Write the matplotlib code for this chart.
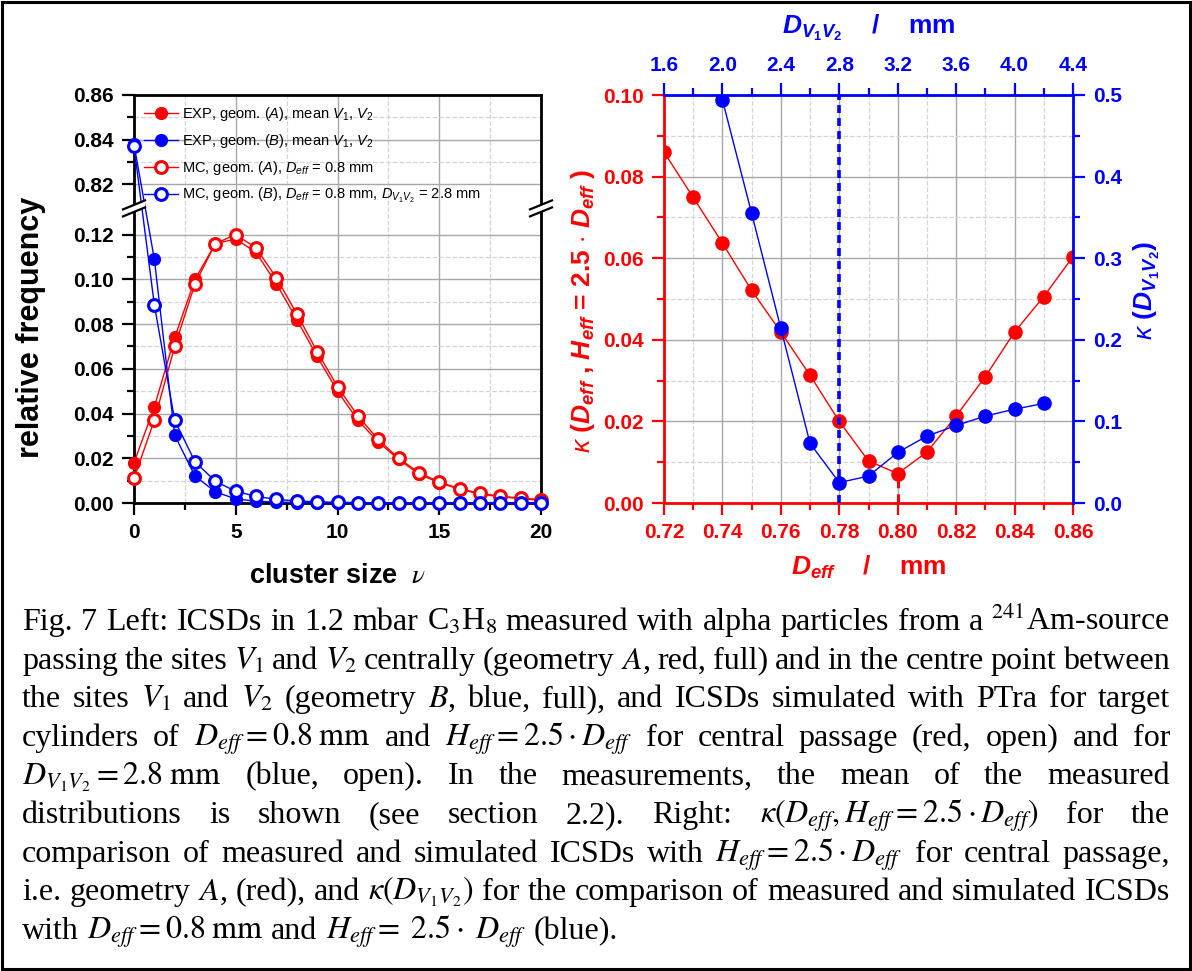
import numpy as np
import matplotlib
matplotlib.use('Agg')
import matplotlib.pyplot as plt
from matplotlib.ticker import FixedLocator, MultipleLocator, FormatStrFormatter
from matplotlib.patches import Polygon, Rectangle
from matplotlib.lines import Line2D

# ---- left panel: cluster size distributions
nu = list(range(21))
exp_a = [0.018, 0.043, 0.074, 0.100, 0.116, 0.118, 0.112, 0.098, 0.082, 0.0655, 0.050,
         0.037, 0.0273, 0.0195, 0.0130, 0.0090, 0.0062, 0.0040, 0.0028, 0.0020, 0.0012]
mc_a = [0.011, 0.037, 0.070, 0.098, 0.116, 0.120, 0.114, 0.1006, 0.0846, 0.0677, 0.052,
        0.039, 0.0284, 0.0200, 0.0136, 0.0094, 0.0064, 0.0043, 0.0030, 0.0022, 0.0015]
exp_b = [0.838, 0.109, 0.0303, 0.012, 0.005, 0.0018, 0.0008, 0.0004, 0.0002, 0.0001, 0.0001,
         0.0, 0.0, 0.0, 0.0, 0.0, 0.0, 0.0, 0.0, 0.0, 0.0]
mc_b = [0.837, 0.0886, 0.037, 0.0184, 0.0097, 0.0052, 0.0030, 0.0016, 0.0009, 0.0005, 0.0003,
        0.0002, 0.0001, 0.0001, 0.0001, 0.0001, 0.0, 0.0, 0.0, 0.0, 0.0]

# ---- right panel: kappa
d_eff = [0.72, 0.73, 0.74, 0.75, 0.76, 0.77, 0.78, 0.79, 0.80, 0.81, 0.82, 0.83, 0.84, 0.85, 0.86]
kappa_a = [0.086, 0.0749, 0.0637, 0.0521, 0.0419, 0.0313, 0.0200, 0.0103, 0.0072, 0.0125,
           0.0213, 0.0310, 0.0419, 0.0506, 0.0604]
d_v1v2 = [2.0, 2.2, 2.4, 2.6, 2.8, 3.0, 3.2, 3.4, 3.6, 3.8, 4.0, 4.2]
kappa_b = [0.494, 0.355, 0.214, 0.073, 0.025, 0.033, 0.062, 0.082, 0.095, 0.1065, 0.115, 0.122]

legend_labels = [r'EXP, geom. ($A$), mean $V_1$, $V_2$',
                 r'EXP, geom. ($B$), mean $V_1$, $V_2$',
                 r'MC, geom. ($A$), $D_{eff}$ = 0.8 mm',
                 r'MC, geom. ($B$), $D_{eff}$ = 0.8 mm, $D_{V_1V_2}$ = 2.8 mm']

caption = [
    r"Fig. 7 Left: ICSDs in 1.2 mbar C$_3$H$_8$ measured with alpha particles from a $^{241}$Am-source",
    r"passing the sites $V_1$ and $V_2$ centrally (geometry $A$, red, full) and in the centre point between",
    r"the sites $V_1$ and $V_2$ (geometry $B$, blue, full), and ICSDs simulated with PTra for target",
    r"cylinders of $D_{eff}=0.8\;\mathrm{mm}$ and $H_{eff}=2.5\cdot{D_{eff}}$ for central passage (red, open) and for",
    r"$D_{V_1V_2}=2.8\;\mathrm{mm}$ (blue, open). In the measurements, the mean of the measured",
    r"distributions is shown (see section 2.2). Right: $\kappa(D_{eff},H_{eff}=2.5\cdot{D_{eff}})$ for the",
    r"comparison of measured and simulated ICSDs with $H_{eff}=2.5\cdot{D_{eff}}$ for central passage,",
    r"i.e. geometry $A$, (red), and $\kappa(D_{V_1V_2})$ for the comparison of measured and simulated ICSDs",
    r"with $D_{eff}=0.8\;\mathrm{mm}$ and $H_{eff}=\;2.5\cdot\;D_{eff}$ (blue).",
]

plt.rcParams['font.family'] = 'Liberation Sans'
plt.rcParams['font.weight'] = 'normal'
plt.rcParams['mathtext.fontset'] = 'custom'
plt.rcParams['mathtext.rm'] = 'Liberation Sans'
plt.rcParams['mathtext.it'] = 'Liberation Sans:italic'
plt.rcParams['mathtext.bf'] = 'Liberation Sans:bold'
plt.rcParams['mathtext.bfit'] = 'Liberation Sans:italic:bold'

W, H = 1192, 971
fig = plt.figure(figsize=(W / 100, H / 100), dpi=100)


def px_box(x0, y0, x1, y1):
    return [x0 / W, 1 - y1 / H, (x1 - x0) / W, (y1 - y0) / H]


RED, BLUE = '#ff0000', '#0000ff'
TICK_FS = 15
LAB_FS = 19
TPAD = 6

# ============ left panel (broken y axis) ============
LO, HI = 0.1317, 0.8093


def fwd(y):
    y = np.asarray(y, float)
    return np.where(y <= LO, y, np.where(y >= HI, y - (HI - LO), LO))


def inv(t):
    t = np.asarray(t, float)
    return np.where(t <= LO, t, t + (HI - LO))


ax = fig.add_axes(px_box(134, 95, 541, 503))
ax.set_yscale('function', functions=(fwd, inv))
ax.set_xlim(0, 20)
ax.set_ylim(0, 0.86)
ax.yaxis.set_major_locator(FixedLocator([0, 0.02, 0.04, 0.06, 0.08, 0.10, 0.12, 0.82, 0.84, 0.86]))
ax.yaxis.set_minor_locator(FixedLocator([0.01, 0.03, 0.05, 0.07, 0.09, 0.11, 0.83, 0.85]))
ax.yaxis.set_major_formatter(FormatStrFormatter('%.2f'))
ax.yaxis.set_minor_formatter(plt.NullFormatter())
ax.xaxis.set_major_locator(MultipleLocator(5))
ax.xaxis.set_minor_locator(MultipleLocator(2.5))
ax.set_axisbelow(True)
ax.grid(which='major', color='#a8a8a8', lw=1.0)
ax.grid(which='minor', color='#d4d4d4', lw=0.9, ls='--')
for s in ax.spines.values():
    s.set_linewidth(2.0)
ax.tick_params(which='major', direction='out', length=8.5, width=1.6, labelsize=TICK_FS, pad=TPAD)
ax.tick_params(which='minor', direction='out', length=5, width=1.6)
ax.tick_params(top=False, right=False, which='both')

ms = 8.5
l1, = ax.plot(nu, exp_a, '-o', color=RED, lw=1.0, ms=ms, clip_on=False, zorder=3)
l2, = ax.plot(nu, exp_b, '-o', color=BLUE, lw=1.0, ms=ms, clip_on=False, zorder=3)
l3, = ax.plot(nu, mc_a, '-o', color=RED, lw=1.0, ms=ms, mfc='white', mew=2.2, clip_on=False, zorder=4)
l4, = ax.plot(nu, mc_b, '-o', color=BLUE, lw=1.0, ms=ms, mfc='white', mew=2.2, clip_on=False, zorder=4)

ax.legend([l1, l2, l3, l4], legend_labels, loc='upper left', frameon=False,
          prop=dict(family=['Liberation Sans Narrow', 'Liberation Sans'], size=10.5),
          handlelength=2.3, handletextpad=0.3, labelspacing=0.62, borderaxespad=0.3)

ax.set_xlabel(r'cluster size  $\nu$', fontsize=19.5, fontweight='bold', labelpad=15,
              math_fontfamily='stix')
ax.set_ylabel('relative frequency', fontsize=22, fontweight='bold')
ax.yaxis.set_label_coords(-0.215, 0.43)

# break marks on both spines
pos = ax.get_position()
axw, axh = pos.width * W, pos.height * H
yb = float(fwd(LO) / fwd(0.86))
for xa in (0, 1):
    gap = [(xa - 11 / axw, yb + (-3.5 - 4.5) / axh), (xa + 11 / axw, yb + (-3.5 + 4.5) / axh),
           (xa + 11 / axw, yb + (3.5 + 4.5) / axh), (xa - 11 / axw, yb + (3.5 - 4.5) / axh)]
    ax.add_patch(Polygon(gap, closed=True, fc='white', ec='none', transform=ax.transAxes,
                         clip_on=False, zorder=6))
    for dy in (-3.5, 3.5):
        ax.add_line(Line2D([xa - 11 / axw, xa + 11 / axw],
                           [yb + (dy - 4.5) / axh, yb + (dy + 4.5) / axh],
                           color='black', lw=1.6, transform=ax.transAxes, clip_on=False, zorder=7))

# ============ right panel ============
RBOX = px_box(664, 95, 1073, 503)
ax2 = fig.add_axes(RBOX)
ax2.plot(d_eff, kappa_a, '-o', color=RED, lw=1.0, ms=9.5, zorder=3)
i_a = int(np.argmin(kappa_a))
ax2.vlines(d_eff[i_a], 0, kappa_a[i_a], colors=RED, linestyles=(0, (3, 2)), lw=2.2, zorder=2)
ax2.set_xlim(0.72, 0.86)
ax2.set_ylim(0, 0.10)
ax2.xaxis.set_major_locator(MultipleLocator(0.02))
ax2.xaxis.set_minor_locator(MultipleLocator(0.01))
ax2.yaxis.set_major_locator(MultipleLocator(0.02))
ax2.yaxis.set_minor_locator(MultipleLocator(0.01))
ax2.xaxis.set_major_formatter(FormatStrFormatter('%.2f'))
ax2.yaxis.set_major_formatter(FormatStrFormatter('%.2f'))
ax2.set_axisbelow(True)
ax2.grid(which='major', color='#a8a8a8', lw=1.0)
ax2.grid(which='minor', color='#d4d4d4', lw=0.9, ls='--')
ax2.spines['top'].set_visible(False)
ax2.spines['right'].set_visible(False)
for s in ('left', 'bottom'):
    ax2.spines[s].set_color(RED)
    ax2.spines[s].set_linewidth(2.0)
ax2.tick_params(which='both', direction='out', colors=RED, top=False, right=False)
ax2.tick_params(which='major', length=8.5, width=1.6, labelsize=TICK_FS, pad=TPAD)
ax2.tick_params(which='minor', length=5, width=1.6)
ax2.set_xlabel(r'$\mathbfit{D}_{\mathbfit{eff}}$    /    mm', color=RED, fontsize=LAB_FS,
               fontweight='bold')
ax2.xaxis.set_label_coords(0.5, -0.125)
ax2.set_ylabel(r'$\kappa$ ($\mathbfit{D}_{\mathbfit{eff}}$ , $\mathbfit{H}_{\mathbfit{eff}}$ = 2.5 $\cdot$ $\mathbfit{D}_{\mathbfit{eff}}$ )',
               color=RED, fontsize=LAB_FS, fontweight='bold')
ax2.yaxis.set_label_coords(-0.165, 0.47)

ax3 = fig.add_axes(RBOX, facecolor='none')
ax3.plot(d_v1v2, kappa_b, '-o', color=BLUE, lw=1.0, ms=9.5, zorder=3)
i_b = int(np.argmin(kappa_b))
ax3.axvline(d_v1v2[i_b], color=BLUE, ls=(0, (2.2, 1.4)), lw=2.6, zorder=2)
ax3.set_xlim(1.6, 4.4)
ax3.set_ylim(0, 0.5)
ax3.xaxis.set_major_locator(MultipleLocator(0.4))
ax3.xaxis.set_minor_locator(MultipleLocator(0.2))
ax3.yaxis.set_major_locator(MultipleLocator(0.1))
ax3.yaxis.set_minor_locator(MultipleLocator(0.05))
ax3.xaxis.set_major_formatter(FormatStrFormatter('%.1f'))
ax3.yaxis.set_major_formatter(FormatStrFormatter('%.1f'))
ax3.xaxis.tick_top()
ax3.yaxis.tick_right()
ax3.xaxis.set_label_position('top')
ax3.yaxis.set_label_position('right')
ax3.spines['left'].set_visible(False)
ax3.spines['bottom'].set_visible(False)
for s in ('top', 'right'):
    ax3.spines[s].set_color(BLUE)
    ax3.spines[s].set_linewidth(2.0)
ax3.tick_params(which='both', direction='out', colors=BLUE)
ax3.tick_params(which='major', length=8.5, width=1.6, labelsize=TICK_FS, pad=TPAD)
ax3.tick_params(which='minor', length=5, width=1.6)
ax3.set_xlabel(r'$\mathbfit{D}_{\mathbfit{V}_{\mathbf{1}}\mathbfit{V}_{\mathbf{2}}}$    /    mm',
               color=BLUE, fontsize=LAB_FS, fontweight='bold', labelpad=16)
ax3.set_ylabel(r'$\kappa$ ($\mathbfit{D}_{\mathbfit{V}_{\mathbf{1}}\mathbfit{V}_{\mathbf{2}}}$)',
               color=BLUE, fontsize=LAB_FS, fontweight='bold')
ax3.yaxis.set_label_coords(1.143, 0.52)

# ============ caption (justified) ============
CAP_FS = 23
x_left, x_right = 22, 1170
base0, step = 630, 38.6
renderer = fig.canvas.get_renderer()
for k, line in enumerate(caption):
    words = line.split(' ')
    fs = CAP_FS
    while True:
        texts = [fig.text(0, 1 - (base0 + k * step) / H, w, fontsize=fs, family='Liberation Serif',
                          fontweight='normal', math_fontfamily='stix', va='baseline', ha='left')
                 for w in words]
        widths = [t.get_window_extent(renderer).width for t in texts]
        gap = (x_right - x_left - sum(widths)) / (len(words) - 1)
        if gap >= 5 or fs < 16:
            break
        for t in texts:
            t.remove()
        fs -= 0.5
    if k == len(caption) - 1:
        gap = 0.25 * fs * 100 / 72
    x = x_left
    for t, w in zip(texts, widths):
        t.set_x(x / W)
        x += w + gap

fig.patches.append(Rectangle((2 / W, 2 / H), (W - 4) / W, (H - 4) / H, transform=fig.transFigure,
                             fill=False, ec='black', lw=2.2))

# bold tick labels (ticks exist after a first draw)
fig.canvas.draw()
for a in (ax, ax2, ax3):
    for lab in a.get_xticklabels() + a.get_yticklabels():
        lab.set_fontweight('bold')

fig.savefig('out.png', dpi=100)
